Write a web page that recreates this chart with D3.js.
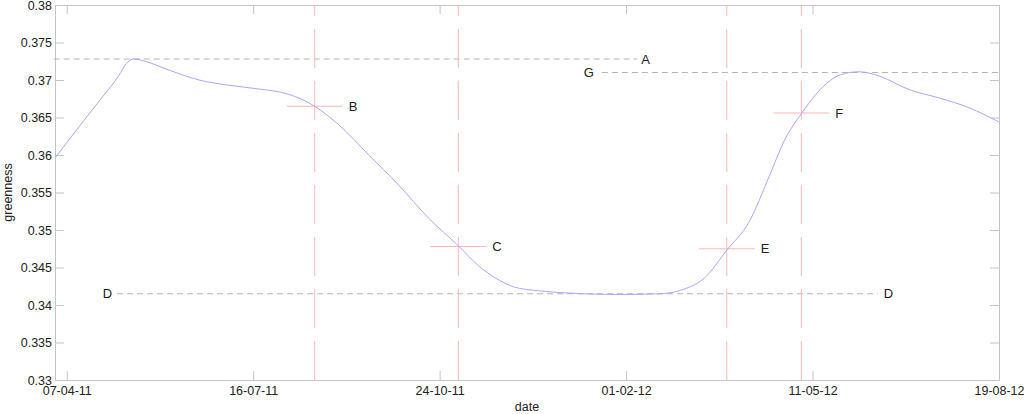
<!DOCTYPE html>
<html lang="en">
<head>
  <meta charset="UTF-8">
  <title>greenness</title>
  <script src="https://d3js.org/d3.v7.min.js"></script>
  <style>
    body {
      margin: 0;
      background: #fff;
    }
    svg text {
      font-family: Arial, "Liberation Sans", sans-serif;
      font-size: 12.5px;
      fill: #222;
    }
    .axis path, .axis line {
      stroke: #c4c4c4;
    }
    .curve {
      fill: none;
      stroke: #a8a8ff;
      stroke-width: 1;
    }
    .ref {
      stroke: #b4b4b4;
      stroke-dasharray: 6,4;
    }
    .mark {
      stroke: #ffb8b8;
      stroke-width: 1;
    }
  </style>
</head>
<body>
  <div id="chart"></div>

  <script>
    // greenness time series
    const dates = ["2011-04-01", "2011-04-14", "2011-04-27", "2011-05-05", "2011-05-09",
      "2011-05-13", "2011-05-19", "2011-06-01", "2011-06-17", "2011-07-03", "2011-07-19", "2011-08-04",
      "2011-08-18", "2011-08-31", "2011-09-16", "2011-10-02", "2011-10-18", "2011-11-03",
      "2011-11-14", "2011-11-25", "2011-12-03", "2011-12-16", "2012-01-01", "2012-01-29",
      "2012-02-19", "2012-03-03", "2012-03-14", "2012-03-26", "2012-04-07", "2012-04-18",
      "2012-04-26", "2012-05-05", "2012-05-15", "2012-05-26", "2012-06-05", "2012-06-16",
      "2012-07-02", "2012-07-18", "2012-08-03", "2012-08-19"];
    const greenness = [0.3597, 0.3639, 0.3680, 0.3706, 0.3722,
      0.3728, 0.3725, 0.3713, 0.3700, 0.3693, 0.3688, 0.3681,
      0.3665, 0.3640, 0.3600, 0.3560, 0.3516, 0.3479,
      0.3452, 0.3433, 0.3424, 0.3419, 0.3416, 0.3414,
      0.3415, 0.3421, 0.3436, 0.3473, 0.3511, 0.3573,
      0.3620, 0.3655, 0.3687, 0.3707, 0.3711, 0.3705,
      0.3687, 0.3676, 0.3663, 0.3644];

    // axis ticks
    const xTicks = ["2011-04-07", "2011-07-16", "2011-10-24", "2012-02-01", "2012-05-11", "2012-08-19"];
    const yTicks = [0.33, 0.335, 0.34, 0.345, 0.35, 0.355, 0.36, 0.365, 0.37, 0.375, 0.38];

    // crosshair markers
    const markLabels = ["B", "C", "E", "F"];
    const markDates = ["2011-08-18", "2011-11-03", "2012-03-26", "2012-05-05"];
    const markValues = [0.3665, 0.3478, 0.3475, 0.3656];

    // dashed reference levels
    const refLabels = ["A", "G", "D"];
    const refValues = [0.3728, 0.3710, 0.3415];
    const refStart = ["2011-03-31", "2012-01-19", "2011-05-04"];
    const refEnd = ["2012-02-07", "2012-08-19", "2012-06-15"];

    const parse = d3.utcParse("%Y-%m-%d");
    const width = 1024, height = 414;
    const margin = {top: 5, right: 25, bottom: 34, left: 55};

    const x = d3.scaleUtc()
      .domain([new Date(Date.UTC(2011, 2, 31, 17)), parse("2012-08-19")])
      .range([margin.left, width - margin.right]);
    const y = d3.scaleLinear()
      .domain([0.33, 0.38])
      .range([height - margin.bottom, margin.top]);

    const svg = d3.select("#chart").append("svg")
      .attr("width", width)
      .attr("height", height);

    const fmt = d3.utcFormat("%d-%m-%y");
    const xVals = xTicks.map(parse);

    svg.append("g").attr("class", "axis")
      .attr("transform", `translate(0,${height - margin.bottom})`)
      .call(d3.axisBottom(x).tickValues(xVals).tickFormat(fmt).tickSizeInner(-9).tickSizeOuter(0).tickPadding(6));
    svg.append("g").attr("class", "axis")
      .attr("transform", `translate(0,${margin.top})`)
      .call(d3.axisTop(x).tickValues(xVals).tickFormat("").tickSizeInner(-9).tickSizeOuter(0));
    svg.append("g").attr("class", "axis")
      .attr("transform", `translate(${margin.left},0)`)
      .call(d3.axisLeft(y).tickValues(yTicks).tickFormat(d3.format("")).tickSizeInner(-9).tickSizeOuter(0).tickPadding(3));
    svg.append("g").attr("class", "axis")
      .attr("transform", `translate(${width - margin.right},0)`)
      .call(d3.axisRight(y).tickValues(yTicks).tickFormat("").tickSizeInner(-9).tickSizeOuter(0));

    svg.selectAll(".axis text").style("font-size", "12.5px").attr("fill", "#222");

    // axis titles
    svg.append("text")
      .attr("x", (margin.left + width - margin.right) / 2)
      .attr("y", height - 3)
      .attr("text-anchor", "middle")
      .text("date");
    svg.append("text")
      .attr("transform", `translate(12,${(margin.top + height - margin.bottom) / 2}) rotate(-90)`)
      .attr("text-anchor", "middle")
      .text("greenness");

    // reference lines
    const refs = refLabels.map((l, i) => ({
      label: l, value: refValues[i], start: parse(refStart[i]), end: parse(refEnd[i])
    }));
    svg.selectAll("line.ref")
      .data(refs)
      .enter().append("line")
      .attr("class", "ref")
      .attr("x1", d => x(d.start))
      .attr("x2", d => x(d.end))
      .attr("y1", d => y(d.value))
      .attr("y2", d => y(d.value));

    const refText = [
      {label: "A", at: "end", dx: 4, anchor: "start"},
      {label: "G", at: "start", dx: -8, anchor: "end"},
      {label: "D", at: "start", dx: -5, anchor: "end"},
      {label: "D", at: "end", dx: 6, anchor: "start"}
    ];
    svg.selectAll("text.reflabel")
      .data(refText)
      .enter().append("text")
      .attr("class", "reflabel")
      .attr("x", d => { const r = refs.find(r => r.label === d.label); return x(r[d.at]) + d.dx; })
      .attr("y", d => y(refs.find(r => r.label === d.label).value))
      .attr("dy", "0.36em")
      .attr("text-anchor", d => d.anchor)
      .style("font-size", "13px")
      .text(d => d.label);

    // markers
    const marks = markLabels.map((l, i) => ({label: l, date: parse(markDates[i]), value: markValues[i]}));
    const halfSpan = 15 * 864e5;

    svg.selectAll("path.vline")
      .data(marks)
      .enter().append("path")
      .attr("class", "mark")
      .attr("stroke-dasharray", "39,13")
      .attr("d", d => `M${x(d.date)},${y(0.33)}V${y(0.38)}`);
    svg.selectAll("line.hline")
      .data(marks)
      .enter().append("line")
      .attr("class", "mark")
      .attr("x1", d => x(new Date(+d.date - halfSpan)))
      .attr("x2", d => x(new Date(+d.date + halfSpan)))
      .attr("y1", d => y(d.value))
      .attr("y2", d => y(d.value));

    // the curve
    const series = dates.map((d, i) => ({date: parse(d), value: greenness[i]}));
    svg.append("path")
      .datum(series)
      .attr("class", "curve")
      .attr("d", d3.line().x(d => x(d.date)).y(d => y(d.value)).curve(d3.curveMonotoneX));

    svg.selectAll("text.marklabel")
      .data(marks)
      .enter().append("text")
      .attr("x", d => x(d.date) + 34)
      .attr("y", d => y(d.value))
      .attr("dy", "0.36em")
      .style("font-size", "13px")
      .text(d => d.label);
  </script>
</body>
</html>
